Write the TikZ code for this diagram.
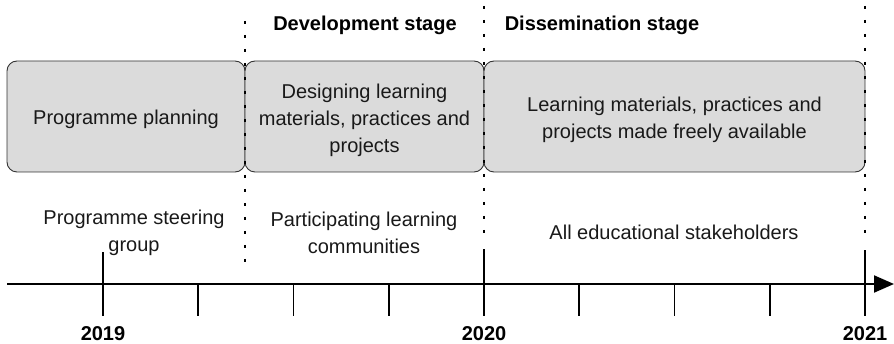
\documentclass[tikz,border=0pt]{standalone}
\usepackage{fontspec}
\setmainfont{Liberation Sans}
\usetikzlibrary{arrows.meta}
\begin{document}
\begin{tikzpicture}[x=1pt,y=-1pt,
  txt/.style={font=\fontsize{20}{27}\selectfont, align=center, inner sep=0pt, text=black!90},
  hdr/.style={font=\fontsize{20}{27}\selectfont\bfseries, align=center, inner sep=0pt, text=black},
  stagebox/.style={draw=black!80, fill=gray!28, rounded corners=10pt, line width=0.9pt, minimum height=111pt},
  sep/.style={line width=1.6pt, dash pattern=on 3pt off 11pt},
  tickline/.style={line width=1.8pt},
]
\useasboundingbox (0,0) rectangle (894,344);
% stage boxes
\node[stagebox, minimum width=238pt] (b1) at (126,116.5) {};
\node[stagebox, minimum width=239pt] (b2) at (364.5,116.5) {};
\node[stagebox, minimum width=381pt] (b3) at (674.5,116.5) {};
\node[txt] (l1) at ([yshift=-2.5pt]b1.center) {Programme planning};
\node[txt] (l2) at ([yshift=-3.5pt]b2.center) {Designing learning\\materials, practices and\\projects};
\node[txt] (l3) at ([yshift=-3.5pt]b3.center) {Learning materials, practices and\\projects made freely available};
% headers
\node[hdr] (h1) at (365,25) {Development stage};
\node[hdr] (h2) at (602,25) {Dissemination stage};
% dotted separators
\coordinate (d1t) at (245,21);  \coordinate (d1b) at (245,270);
\coordinate (d2t) at (484,6);   \coordinate (d2b) at (484,240);
\coordinate (d3t) at (865,6);   \coordinate (d3b) at (865,240);
\draw[sep] (d1t) -- (d1b);
\draw[sep] (d2t) -- (d2b);
\draw[sep] (d3t) -- (d3b);
% axis
\coordinate (a0) at (7,284);
\coordinate (a1) at (894,284);
\draw[line width=2pt, -{Triangle[length=20pt,width=17pt]}] (a0) -- (a1);
\foreach \x [count=\i] in {103,198.25,293.5,388.75,484,579.25,674.5,769.75,865} {
  \coordinate (t\i) at (\x,284);
  \draw[tickline] (t\i) -- ++(0,32);
}
\draw[tickline] (t1) -- ++(0,-32);
\draw[tickline] (t5) -- ++(0,-35);
\draw[tickline] (t9) -- ++(0,-34);
% years
\node[hdr] (y1) at (103,334) {2019};
\node[hdr] (y2) at (484,334) {2020};
\node[hdr] (y3) at (865,334) {2021};
% participants
\node[txt] (p1) at (134,233) {Programme steering\\group};
\node[txt] (p2) at (364,233) {Participating learning\\communities};
\node[txt] (p3) at (674,232) {All educational stakeholders};
\end{tikzpicture}
\end{document}
